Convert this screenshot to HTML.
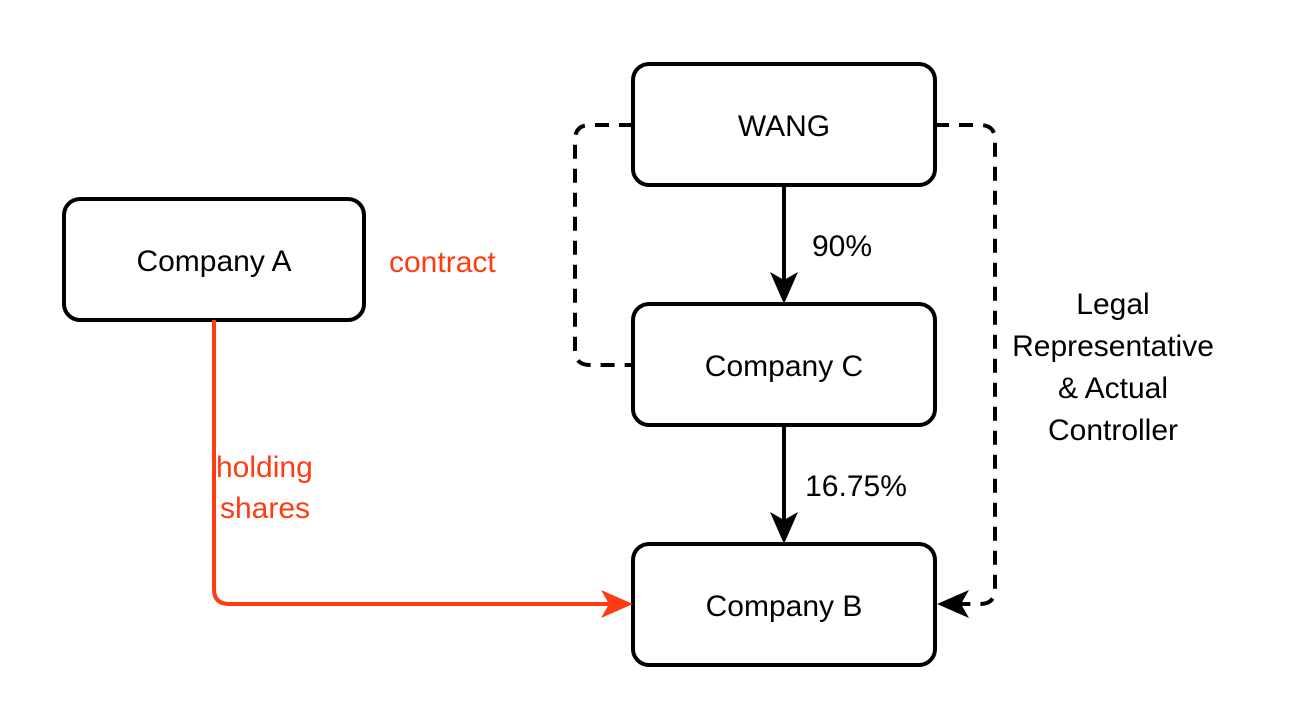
<!DOCTYPE html>
<html><head><meta charset="utf-8"><style>
html,body{margin:0;padding:0;background:#fff;}
svg{display:block;font-family:"Liberation Sans",Arial,sans-serif;}
</style></head><body>
<svg width="1293" height="726" viewBox="0 0 1293 726" xmlns="http://www.w3.org/2000/svg">
<g fill="#fff" stroke="#000" stroke-width="4">
<rect x="64" y="199" width="300" height="121" rx="16"/>
<rect x="633" y="64" width="302" height="121" rx="16"/>
<rect x="633" y="304" width="302" height="121" rx="16"/>
<rect x="633" y="544" width="302" height="121" rx="16"/>
</g>
<g fill="none" stroke="#000" stroke-width="4" stroke-dasharray="14,10">
<path d="M633,125 H590 Q575,125 575,140 V350 Q575,365 590,365 H633"/>
<path d="M935,125 H980 Q995,125 995,140 V589 Q995,604 980,604 H950"/>
</g>
<g stroke="#000" stroke-width="4" fill="none">
<path d="M784,185 V292"/>
<path d="M784,425 V532"/>
</g>
<g fill="#000">
<path d="M784,304 L770,272 L784,280 L798,272 Z"/>
<path d="M784,544 L770,512 L784,520 L798,512 Z"/>
<path d="M937,604 L969,590 L961,604 L969,618 Z"/>
</g>
<path d="M214,320 V589 Q214,604 229,604 H620" fill="none" stroke="#FF3B12" stroke-width="4"/>
<path d="M633,604 L601,590 L609,604 L601,618 Z" fill="#FF3B12"/>
<g font-size="30" fill="#000" text-anchor="middle">
<text x="214" y="271">Company A</text>
<text x="784" y="136">WANG</text>
<text x="784" y="376">Company C</text>
<text x="784" y="616">Company B</text>
<text x="842" y="256">90%</text>
<text x="856" y="496">16.75%</text>
<text x="1113" y="314">Legal</text>
<text x="1113" y="356">Representative</text>
<text x="1113" y="398">&amp; Actual</text>
<text x="1113" y="440">Controller</text>
</g>
<g font-size="30" fill="#FF3B12">
<text x="389" y="272">contract</text>
<text x="216" y="477">holding</text>
<text x="220" y="518">shares</text>
</g>
</svg>
</body></html>
